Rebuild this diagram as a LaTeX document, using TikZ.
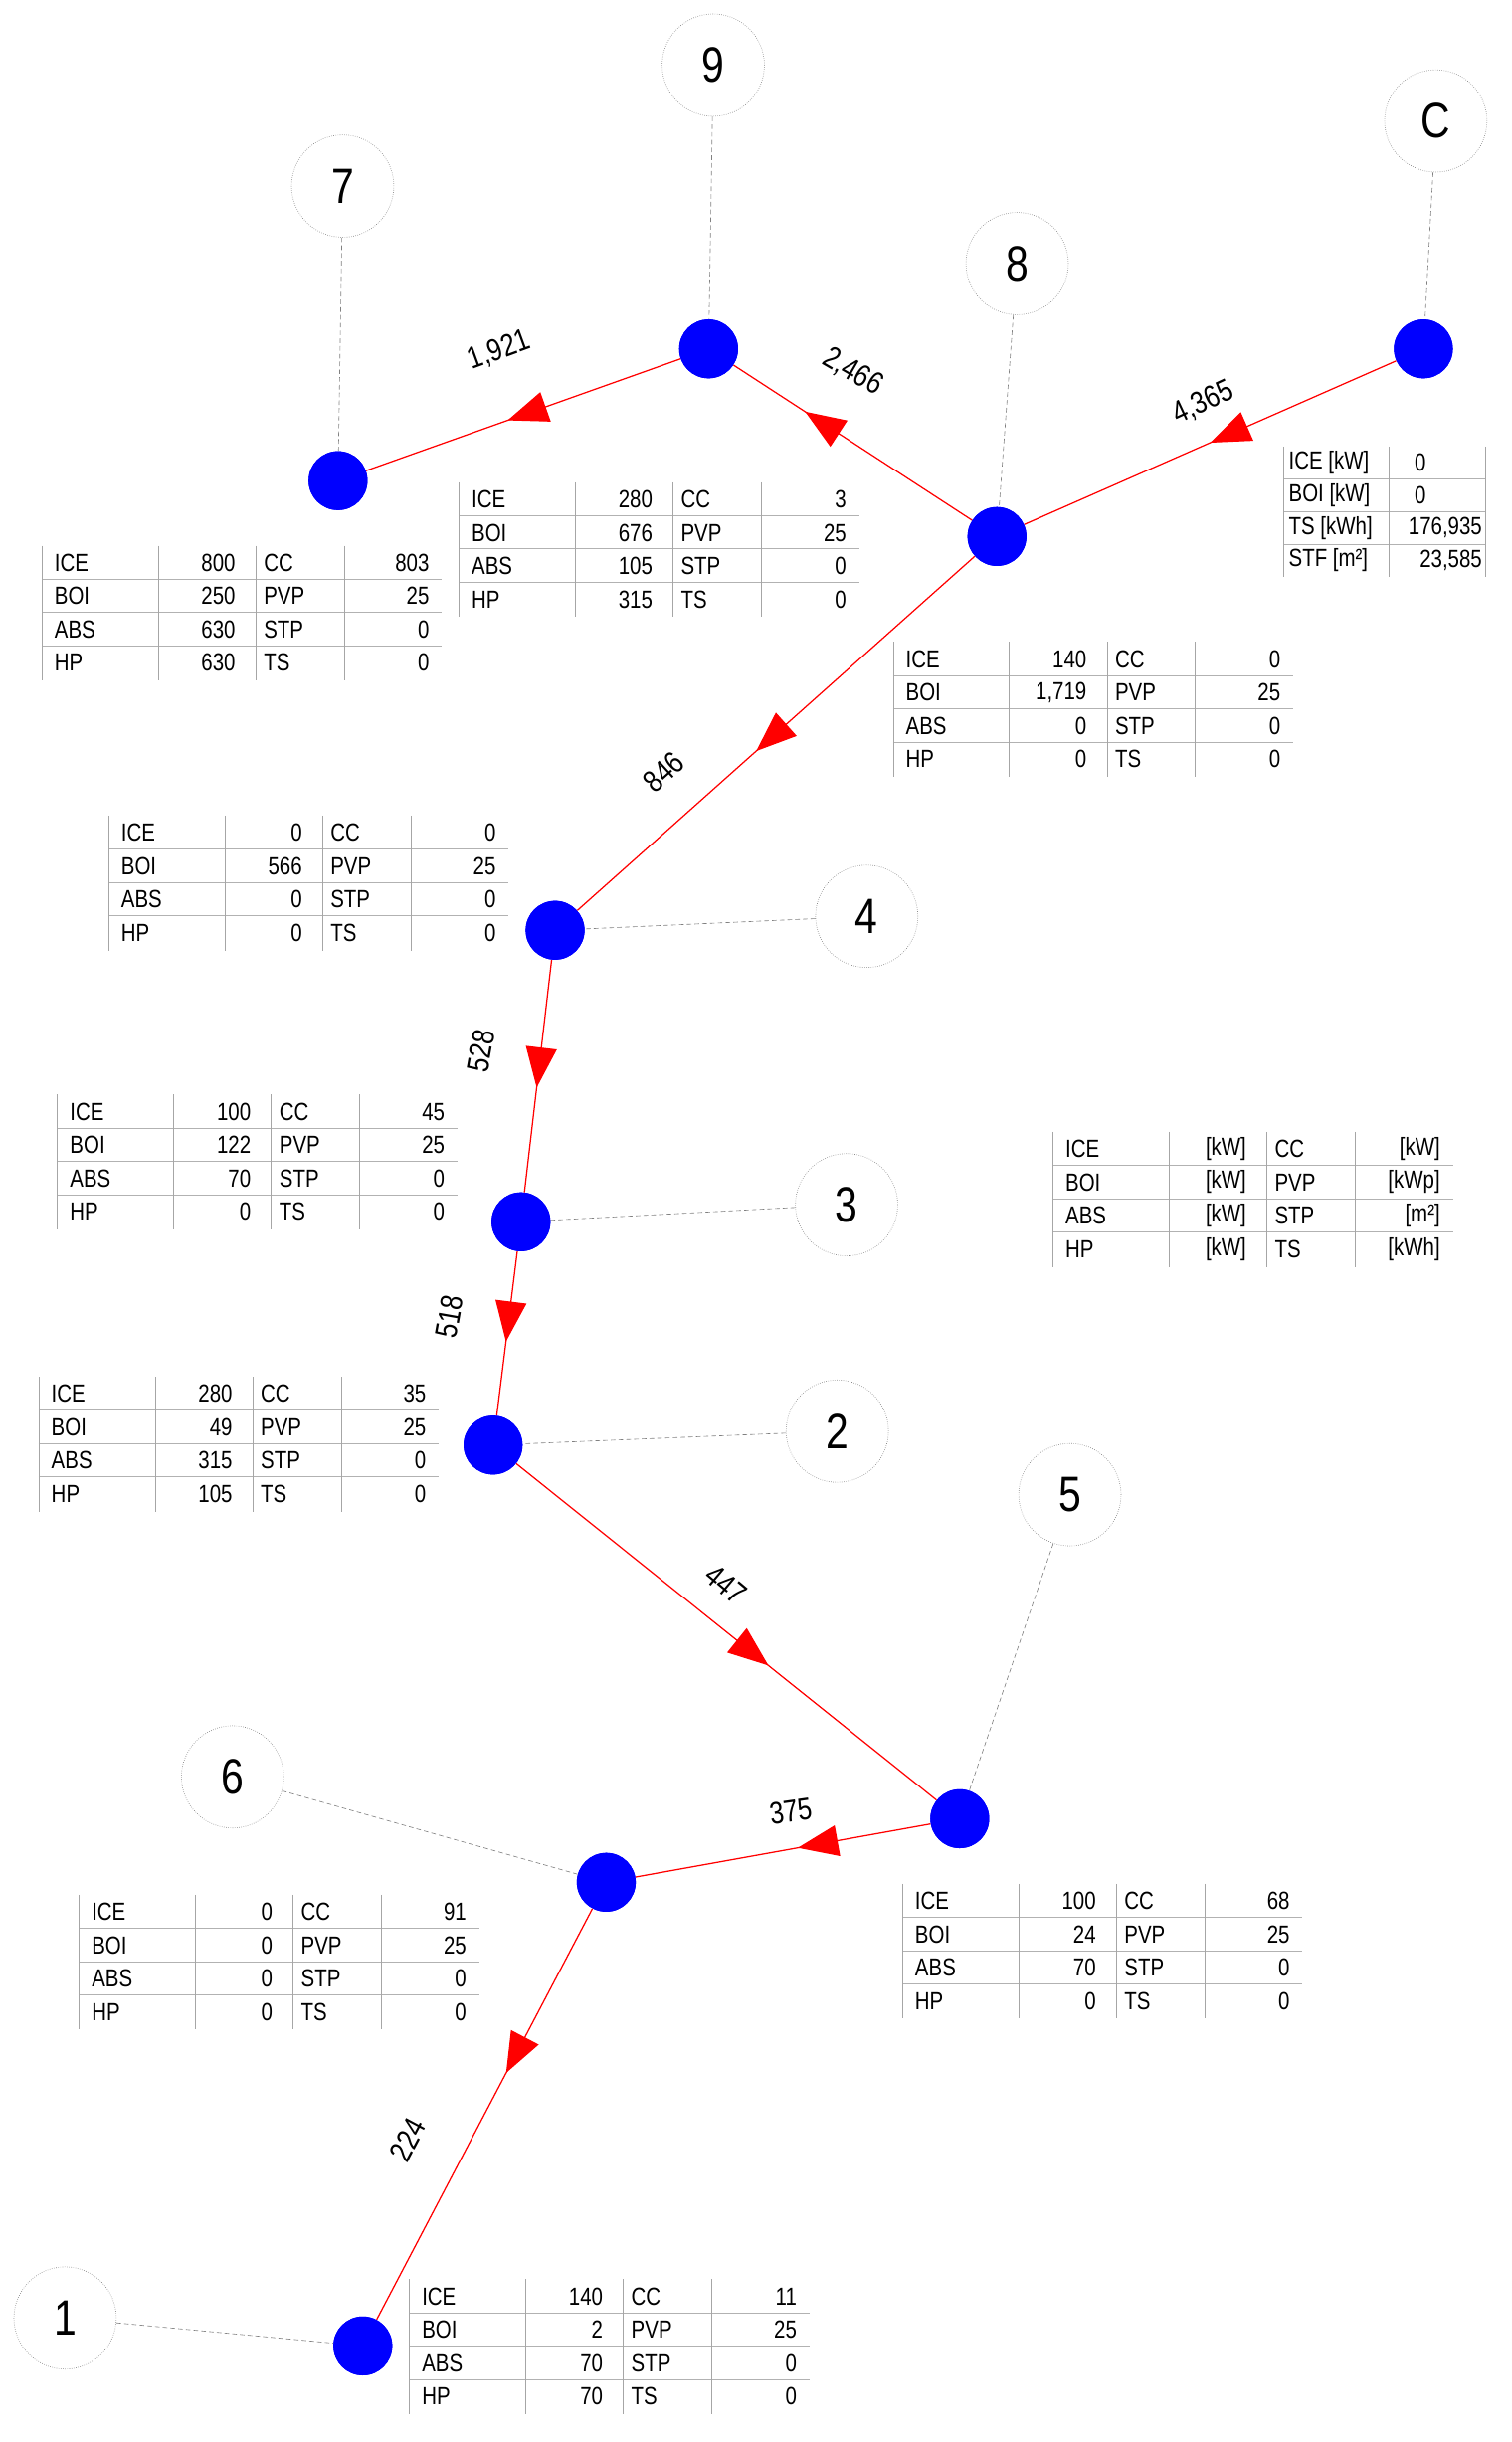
\documentclass[tikz,border=0pt]{standalone}
\usepackage{fontspec}
\setmainfont{Liberation Sans}[FakeStretch=0.82]
\usetikzlibrary{decorations.markings,arrows.meta}
\tikzset{
 bn/.style={circle,fill=blue,minimum size=38pt,inner sep=0pt},
 lc/.style={circle,draw=gray,densely dotted,minimum size=66pt,inner sep=0pt,font=\fontsize{32}{34}\selectfont,fill=white},
 gl/.style={gray,thin,densely dashed},
 rl/.style={red,thick,postaction={decorate},decoration={markings,mark=at position #1 with {\arrow{Triangle[length=26pt,width=20pt]}}}},
 el/.style={font=\fontsize{20}{22}\selectfont,inner sep=1pt},
 tt/.style={font=\fontsize{16}{18}\selectfont,inner sep=0pt}
}
\newcommand{\tb}[9]{%
 \begin{scope}[shift={(#1)}]
 \foreach \r in {21.5,43,64.5}{\draw[gray!60,thin] (0,\r) -- (258,\r);}
 \draw[gray!70,thin] (0,0)--(0,87) (75,0)--(75,87) (138,0)--(138,87) (195,0)--(195,87);
 \foreach \n [count=\i] in {ICE,BOI,ABS,HP}{\node[tt,anchor=west] at (8,\i*21.5-10.5) {\n};}
 \foreach \n [count=\i] in {CC,PVP,STP,TS}{\node[tt,anchor=west] at (143,\i*21.5-10.5) {\n};}
 \node[tt,anchor=east] at (125,11) {#2};
 \node[tt,anchor=east] at (125,32.5) {#4};
 \node[tt,anchor=east] at (125,54) {#6};
 \node[tt,anchor=east] at (125,75.5) {#8};
 \node[tt,anchor=east] at (250,11) {#3};
 \node[tt,anchor=east] at (250,32.5) {#5};
 \node[tt,anchor=east] at (250,54) {#7};
 \node[tt,anchor=east] at (250,75.5) {#9};
 \end{scope}}
\begin{document}
\begin{tikzpicture}[x=1pt,y=-1pt]
\useasboundingbox[fill=white] (0,0) rectangle (975,1575);
\node[lc] (c7) at (221,120) {7};
\node[lc] (c9) at (460,42) {9};
\node[lc] (c8) at (656,170) {8};
\node[lc] (cC) at (926,78) {C};
\node[lc] (c4) at (559,591) {4};
\node[lc] (c3) at (546,777) {3};
\node[lc] (c2) at (540,923) {2};
\node[lc] (c5) at (690,964) {5};
\node[lc] (c6) at (150,1146) {6};
\node[lc] (c1) at (42,1495) {1};
\node[bn] (n7) at (218,310) {};
\node[bn] (n9) at (457,225) {};
\node[bn] (n8) at (643,346) {};
\node[bn] (nC) at (918,225) {};
\node[bn] (n4) at (358,600) {};
\node[bn] (n3) at (336,788) {};
\node[bn] (n2) at (318,932) {};
\node[bn] (n5) at (619,1173) {};
\node[bn] (n6) at (391,1214) {};
\node[bn] (n1) at (234,1513) {};
\foreach \a/\b in {c7/n7,c9/n9,c8/n8,cC/nC,c4/n4,c3/n3,c2/n2,c5/n5,c6/n6,c1/n1}{\draw[gl] (\a) -- (\b);}
\draw[rl=0.55] (n9) -- (n7);
\draw[rl=0.7] (n8) -- (n9);
\draw[rl=0.5] (nC) -- (n8);
\draw[rl=0.55] (n8) -- (n4);
\draw[rl=0.55] (n4) -- (n3);
\draw[rl=0.55] (n3) -- (n2);
\draw[rl=0.6] (n2) -- (n5);
\draw[rl=0.45] (n5) -- (n6);
\draw[rl=0.4] (n6) -- (n1);
\node[bn] at (n7) {};\node[bn] at (n9) {};\node[bn] at (n8) {};\node[bn] at (nC) {};
\node[bn] at (n4) {};\node[bn] at (n3) {};\node[bn] at (n2) {};\node[bn] at (n5) {};
\node[bn] at (n6) {};\node[bn] at (n1) {};
\node[el,rotate=20] (e1) at (322,226) {1,921};
\node[el,rotate=-30] (e2) at (550,240) {2,466};
\node[el,rotate=25] (e3) at (776,260) {4,365};
\node[el,rotate=42] (e4) at (428,498) {846};
\node[el,rotate=80] (e5) at (310,678) {528};
\node[el,rotate=80] (e6) at (290,849) {518};
\node[el,rotate=-40] (e7) at (468,1022) {447};
\node[el,rotate=8] (e8) at (510,1168) {375};
\node[el,rotate=62] (e9) at (263,1380) {224};
\tb{27,352}{800}{803}{250}{25}{630}{0}{630}{0}
\tb{296,311}{280}{3}{676}{25}{105}{0}{315}{0}
\tb{576,414}{140}{0}{1,719}{25}{0}{0}{0}{0}
\tb{70,526}{0}{0}{566}{25}{0}{0}{0}{0}
\tb{37,706}{100}{45}{122}{25}{70}{0}{0}{0}
\tb{679,730}{[kW]}{[kW]}{[kW]}{[kWp]}{[kW]}{[m²]}{[kW]}{[kWh]}
\tb{25,888}{280}{35}{49}{25}{315}{0}{105}{0}
\tb{51,1222}{0}{91}{0}{25}{0}{0}{0}{0}
\tb{582,1215}{100}{68}{24}{25}{70}{0}{0}{0}
\tb{264,1470}{140}{11}{2}{25}{70}{0}{70}{0}
\begin{scope}[shift={(828,288)}]
\foreach \r in {21,42,63}{\draw[gray!60,thin] (0,\r) -- (130,\r);}
\draw[gray!70,thin] (0,0)--(0,84) (68,0)--(68,84) (130,0)--(130,84);
\foreach \n [count=\i] in {ICE [kW],BOI [kW],TS [kWh],STF [m²]}{\node[tt,anchor=west] at (3,\i*21-10.5) {\n};}
\node[tt] at (88,10.5) {0};
\node[tt] at (88,31.5) {0};
\node[tt,anchor=east] at (128,52.5) {176,935};
\node[tt,anchor=east] at (128,73.5) {23,585};
\end{scope}
\end{tikzpicture}
\end{document}
